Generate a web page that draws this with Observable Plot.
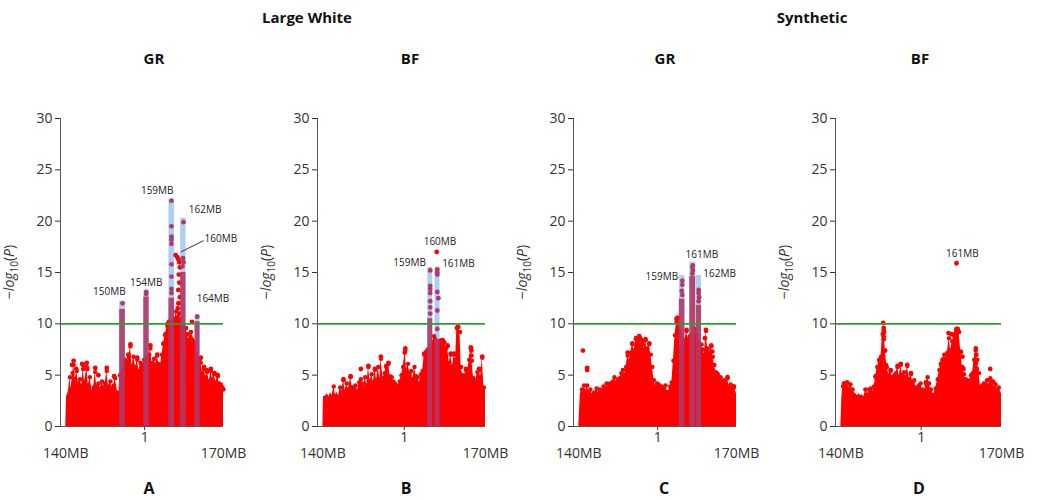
<!DOCTYPE html>
<html><head><meta charset="utf-8">
<script src="https://cdn.jsdelivr.net/npm/d3@7"></script>
<script src="https://cdn.jsdelivr.net/npm/@observablehq/plot@0.6"></script>
<style>
body{margin:0;background:#fff;font-family:"Open Sans",sans-serif}
#root{position:relative;width:1044px;height:499px;overflow:hidden;background:#fff}
.t{position:absolute;font-weight:bold;font-size:15px;line-height:18px;transform:translateX(-50%);white-space:nowrap;color:#111}
.p{position:absolute;top:100px}
</style></head><body><div id="root"></div>
<script>
// ---------- data ----------
const breedTitles = ["Large White", "Synthetic"];
const traitTitles = ["GR", "BF", "GR", "BF"];
const panelLetters = ["A", "B", "C", "D"];
const yTicks = [0, 5, 10, 15, 20, 25, 30];
const chromosomeTick = [{pos: 155, label: "1"}];
const xEndLabels = [{pos: 140, label: "140MB"}, {pos: 170, label: "170MB"}];
const threshold = 10;

// envelope of the dense red cloud: [position MB, -log10(P)]
const envA = [[140.0,0],[140.15,2.9],[140.5,3.4],[140.8,4.8],[141.0,3.6],[141.3,5.2],[141.5,6.0],[141.8,4.6],[142.1,5.4],[142.4,4.2],[142.7,4.6],[143.0,3.9],[143.3,5.6],[143.6,4.3],[144.0,5.8],[144.3,4.0],[144.6,4.8],[145.0,3.5],[145.3,3.8],[145.6,5.3],[145.9,3.9],[146.2,4.2],[146.6,3.7],[146.9,4.4],[147.2,3.8],[147.5,4.2],[147.8,5.4],[148.1,3.9],[148.5,4.4],[148.8,3.7],[149.1,4.0],[149.4,4.7],[149.8,3.5],[150.1,3.4],[150.3,5.0],[151.3,6.5],[151.6,6.2],[152.0,6.8],[152.3,7.8],[152.6,5.9],[152.9,6.8],[153.3,5.8],[153.6,6.5],[153.9,5.4],[154.2,6.2],[154.6,6.0],[154.9,6.5],[155.9,7.0],[156.1,7.6],[156.4,6.2],[156.8,6.6],[157.1,6.0],[157.4,6.9],[157.7,6.1],[158.0,5.8],[158.3,7.0],[158.6,8.0],[158.9,8.9],[159.3,9.8],[159.6,10.2],[160.7,10.4],[160.8,10.5],[161.0,11.2],[161.2,10.6],[161.4,12.0],[161.6,11.0],[161.85,10.5],[162.9,9.6],[163.1,9.0],[163.4,8.4],[163.7,8.8],[164.0,8.5],[164.3,8.3],[164.6,8.0],[165.5,6.5],[165.7,6.2],[166.0,5.2],[166.3,5.6],[166.6,4.8],[166.9,5.3],[167.3,4.4],[167.6,5.4],[167.9,4.6],[168.2,5.1],[168.5,4.3],[168.9,4.9],[169.2,4.2],[169.5,4.1],[169.8,3.8],[170.0,3.6]];
const envB = [[140.0,0],[140.1,2.9],[140.5,3.0],[140.8,3.2],[141.1,2.9],[141.4,3.3],[141.7,3.0],[142.0,3.9],[142.3,3.1],[142.6,3.3],[142.9,3.0],[143.2,3.8],[143.5,3.4],[143.8,4.5],[144.1,3.5],[144.4,4.2],[144.7,3.6],[145.1,4.8],[145.4,3.8],[145.7,3.7],[146.0,4.0],[146.4,3.5],[146.7,4.3],[147.0,4.6],[147.2,4.2],[147.5,3.8],[147.8,4.8],[148.1,4.0],[148.4,5.8],[148.7,4.4],[149.0,5.1],[149.3,4.3],[149.6,5.5],[149.9,4.5],[150.2,5.8],[150.5,4.6],[150.7,6.6],[151.1,4.7],[151.4,5.2],[151.7,5.8],[152.1,6.1],[152.4,4.9],[152.7,4.8],[153.0,4.4],[153.3,4.2],[153.6,3.8],[153.9,4.0],[154.2,4.4],[154.5,5.0],[154.8,5.8],[155.2,7.4],[155.4,5.5],[155.7,6.1],[156.0,5.2],[156.3,5.4],[156.6,4.6],[156.9,5.8],[157.2,4.9],[157.5,4.8],[157.8,4.2],[158.1,5.1],[158.4,5.4],[158.7,7.0],[159.1,7.2],[159.35,7.5],[160.3,8.2],[160.5,8.8],[160.7,8.5],[161.6,8.3],[161.8,8.4],[162.1,8.0],[162.4,8.2],[162.7,7.6],[163.0,7.8],[163.3,6.2],[163.6,7.0],[163.9,5.8],[164.2,7.0],[164.5,6.5],[164.7,9.6],[165.0,9.7],[165.3,9.2],[165.5,5.8],[165.8,5.0],[166.0,4.8],[166.4,5.5],[166.7,5.2],[167.0,6.5],[167.3,7.6],[167.5,6.4],[167.8,4.7],[168.2,4.4],[168.5,5.3],[168.8,5.5],[169.1,4.8],[169.4,6.7],[169.7,3.8],[170.0,3.5]];
const envC = [[140.0,0],[140.3,3.2],[140.6,3.6],[140.8,3.3],[141.0,4.0],[141.3,3.5],[141.6,4.0],[141.9,3.4],[142.2,3.6],[142.5,3.2],[142.8,3.5],[143.1,3.4],[143.4,3.7],[143.7,3.3],[144.0,3.6],[144.3,3.4],[144.7,3.9],[145.0,3.6],[145.3,4.2],[145.6,3.8],[145.9,4.2],[146.2,4.0],[146.5,4.4],[146.8,4.8],[147.1,4.3],[147.5,4.6],[147.8,4.7],[148.1,5.2],[148.4,5.5],[148.7,5.0],[149.0,5.8],[149.3,6.9],[149.6,6.4],[149.9,7.2],[150.2,8.0],[150.5,7.4],[150.9,8.5],[151.2,8.2],[151.5,8.7],[151.8,7.8],[152.1,8.2],[152.4,7.5],[152.7,8.4],[153.0,7.6],[153.4,8.0],[153.7,7.0],[154.0,5.8],[154.3,4.5],[154.6,3.9],[154.9,4.2],[155.2,4.1],[155.5,3.8],[155.8,3.9],[156.1,3.6],[156.5,4.0],[156.8,3.5],[157.1,3.5],[157.4,3.9],[157.7,4.3],[158.0,6.4],[158.3,8.9],[158.6,10.2],[158.9,10.5],[159.1,10.0],[160.2,8.4],[160.5,9.3],[160.8,8.5],[161.1,8.8],[162.2,9.5],[162.4,9.0],[163.35,8.0],[163.6,7.5],[163.9,7.0],[164.2,9.3],[164.5,7.6],[164.8,7.2],[165.2,7.8],[165.5,6.8],[165.8,6.0],[166.1,5.3],[166.4,5.0],[166.7,4.6],[167.0,4.8],[167.3,4.4],[167.6,4.5],[167.9,4.2],[168.3,4.7],[168.6,3.9],[168.9,4.1],[169.2,3.7],[169.5,3.8],[169.8,3.5],[170.0,3.2]];
const envD = [[140.0,0],[140.2,3.0],[140.4,3.9],[140.6,4.1],[140.9,3.8],[141.2,4.2],[141.5,3.7],[141.8,4.1],[142.2,3.6],[142.5,3.3],[142.8,3.2],[143.1,3.0],[143.4,3.2],[143.7,3.0],[144.0,3.1],[144.3,2.9],[144.6,3.5],[145.0,3.2],[145.3,3.6],[145.6,3.7],[146.0,3.4],[146.2,3.9],[146.5,4.8],[146.8,5.8],[147.2,6.4],[147.5,6.8],[147.8,9.0],[148.0,9.4],[148.1,9.2],[148.3,7.4],[148.6,5.8],[149.0,5.0],[149.3,5.4],[149.6,4.8],[150.0,5.0],[150.3,5.2],[150.6,5.8],[150.9,4.9],[151.2,6.0],[151.5,5.0],[151.8,5.3],[152.1,4.8],[152.4,5.9],[152.8,4.6],[153.1,5.1],[153.4,4.3],[153.7,4.5],[154.0,3.8],[154.3,3.6],[154.6,4.0],[154.9,4.2],[155.2,3.6],[155.6,3.4],[155.9,4.2],[156.2,4.8],[156.5,4.2],[156.8,3.6],[157.1,3.3],[157.4,3.2],[157.7,3.7],[158.1,4.6],[158.4,5.5],[158.7,6.0],[159.0,6.4],[159.3,7.0],[159.6,6.6],[159.9,7.2],[160.2,8.6],[160.5,7.4],[160.8,8.3],[161.2,8.8],[161.5,9.4],[161.8,9.5],[162.1,9.2],[162.4,7.2],[162.7,5.8],[163.0,5.1],[163.3,4.6],[163.6,4.5],[164.0,4.4],[164.3,5.0],[164.6,5.2],[164.9,6.5],[165.2,7.4],[165.5,6.5],[165.8,5.2],[166.1,3.8],[166.4,4.0],[166.7,4.2],[167.0,4.0],[167.3,4.5],[167.6,4.0],[167.9,4.7],[168.3,4.3],[168.6,3.8],[168.9,4.1],[169.2,3.6],[169.5,3.8],[169.8,3.4],[170.0,3.2]];

// individual SNPs above the cloud (red)
const dotsA = [[141.2,6.0],[141.5,6.4],[142.0,5.6],[143.1,6.1],[143.3,6.0],[144.0,6.2],[144.1,5.6],[145.6,5.7],[146.2,5.0],[147.8,5.7],[149.2,4.9],[151.9,7.0],[152.3,8.0],[153.6,6.7],[156.1,7.9],[157.4,7.0],[158.6,8.1],[159.0,9.0],[159.4,10.0],[160.9,16.7],[161.2,16.5],[161.4,16.3],[161.6,16.0],[161.7,15.5],[161.5,14.8],[161.6,14.0],[161.4,13.3],[161.7,12.6],[161.5,12.0],[161.3,11.5],[163.8,9.2],[164.0,10.2],[165.7,6.7],[166.3,5.8],[166.8,5.5],[167.6,5.6],[168.3,5.2],[168.9,5.0]];
const dotsB = [[143.8,4.6],[145.1,4.9],[147.0,5.6],[148.4,5.9],[149.6,5.6],[150.7,6.8],[151.7,5.9],[152.1,6.2],[155.1,7.2],[155.2,7.6],[158.7,7.1],[159.1,7.3],[161.0,17.0],[162.1,8.4],[163.0,7.9],[163.6,7.1],[164.2,7.1],[164.9,9.7],[166.4,5.6],[167.3,7.7],[167.4,7.4],[167.4,6.9],[168.8,5.6],[169.4,6.8]];
const dotsC = [[140.8,7.4],[141.6,5.7],[141.6,5.5],[149.3,7.2],[150.2,8.1],[150.9,8.6],[151.5,8.8],[151.8,8.5],[152.1,8.0],[152.7,8.5],[153.4,8.1],[158.6,10.5],[158.8,10.6],[160.5,9.4],[164.0,8.6],[164.2,9.4],[165.2,7.9],[165.4,7.3],[166.4,5.1],[168.3,4.8],[169.5,3.9]];
const dotsD = [[140.6,4.2],[141.2,4.3],[144.6,3.6],[146.5,4.9],[147.2,6.5],[147.9,10.1],[148.0,9.6],[148.0,9.2],[148.0,8.8],[148.0,8.5],[148.2,7.4],[148.4,6.0],[149.3,5.5],[150.6,5.9],[151.2,6.1],[152.4,6.0],[153.1,5.2],[155.9,4.3],[158.7,6.1],[159.0,6.5],[160.1,9.1],[160.6,9.0],[161.3,9.0],[161.6,9.5],[161.8,9.5],[161.6,15.9],[162.4,7.3],[162.7,6.8],[162.9,5.6],[165.2,7.6],[165.3,7.0],[165.2,6.2],[165.4,5.6],[167.9,5.6],[168.3,4.4],[168.5,4.3]];

// highlighted QTL windows: start, end, top of window, top of dense column
const barsA = [{start:150.25,end:151.34,top:12.2,col:11.4},{start:154.84,end:155.86,top:13.2,col:12.6},{start:159.62,end:160.70,top:22.1,col:12.5},{start:161.85,end:162.87,top:20.3,col:15.0},{start:164.59,end:165.54,top:10.9,col:10.2}];
const barsB = [{start:159.35,end:160.27,top:15.5,col:10.5},{start:160.69,end:161.61,top:15.5,col:8.5}];
const barsC = [{start:159.13,end:160.19,top:14.7,col:12.4},{start:161.12,end:162.24,top:16.0,col:14.6},{start:162.36,end:163.35,top:14.7,col:11.8}];
const barsD = [];

// SNPs inside the highlighted windows
const hitsA = [[150.8,12.0],[155.3,13.1],[155.3,12.9],[160.1,22.0],[160.1,19.5],[160.1,18.5],[160.1,18.2],[160.1,17.8],[160.1,15.8],[160.1,14.6],[160.1,13.4],[160.1,13.0],[162.4,19.9],[162.3,16.4],[162.4,16.0],[162.2,15.6],[165.0,10.7]];
const hitsB = [[159.8,15.2],[159.8,13.7],[159.8,13.4],[159.8,13.0],[159.8,12.2],[159.8,11.6],[159.8,11.0],[161.1,15.3],[161.1,15.0],[161.1,14.8],[161.1,13.1],[161.3,12.5],[161.1,11.3],[161.1,9.5]];
const hitsC = [[159.7,14.2],[159.7,13.8],[159.6,13.2],[159.7,12.8],[161.7,15.7],[161.6,15.5],[161.7,15.2],[161.6,14.9],[162.8,13.3],[162.8,13.0],[162.9,12.6],[162.8,12.2]];
const hitsD = [];

// annotations: text, anchor position (MB, -log10P), alignment
const notesA = [{text:"150MB",x:151.4,y:13.1,a:"end"},{text:"154MB",x:155.3,y:14.0,a:"middle"},{text:"159MB",x:160.5,y:23.0,a:"end"},{text:"162MB",x:163.4,y:21.1,a:"start"},{text:"160MB",x:166.4,y:18.3,a:"start"},{text:"164MB",x:164.9,y:12.4,a:"start"}];
const notesB = [{text:"160MB",x:161.6,y:18.0,a:"middle"},{text:"159MB",x:159.0,y:15.9,a:"end"},{text:"161MB",x:162.0,y:15.8,a:"start"}];
const notesC = [{text:"159MB",x:158.9,y:14.6,a:"end"},{text:"161MB",x:163.4,y:16.7,a:"middle"},{text:"162MB",x:163.7,y:14.9,a:"start"}];
const notesD = [{text:"161MB",x:162.7,y:16.8,a:"middle"}];
const leadersA = [{x1:161.9,y1:17.0,x2:166.2,y2:18.1}];

// ---------- layout ----------
const panels = [
  {env:envA, dots:dotsA, bars:barsA, hits:hitsA, notes:notesA, leaders:leadersA},
  {env:envB, dots:dotsB, bars:barsB, hits:hitsB, notes:notesB, leaders:[]},
  {env:envC, dots:dotsC, bars:barsC, hits:hitsC, notes:notesC, leaders:[]},
  {env:envD, dots:dotsD, bars:barsD, hits:hitsD, notes:notesD, leaders:[]}
];
const panelLeft = [0, 257, 513, 775];
const panelPlotW = [163, 168, 163, 166];
const traitCenters = [154, 410, 665, 920];
const letterCenters = [149, 406, 664, 919];
const breedCenters = [307, 812];

const root = document.getElementById("root");
function addText(txt, cx, cy, size) {
  const d = document.createElement("div");
  d.className = "t"; d.textContent = txt;
  d.style.left = cx + "px"; d.style.top = (cy - 9) + "px";
  if (size) d.style.fontSize = size + "px";
  root.appendChild(d);
}
breedTitles.forEach((t, i) => addText(t, breedCenters[i], 17));
traitTitles.forEach((t, i) => addText(t, traitCenters[i], 58));
panelLetters.forEach((t, i) => addText(t, letterCenters[i], 488, 16));

const RED = "#ff0000", PURPLE = "#b03a68", BLUE = "#b0cdf2", AXIS = "#555";
const ML = 60, MR = 30, MT = 18, MB = 44, H = 370;

panels.forEach((p, i) => {
  const W = ML + panelPlotW[i] + MR;
  const txt = (a) => Plot.text(p.notes.filter(n => n.a === a), {x:"x", y:"y", text:"text", textAnchor:a, fontSize:10, fill:"#222"});
  const svg = Plot.plot({
    width: W, height: H,
    marginLeft: ML, marginRight: MR, marginTop: MT, marginBottom: MB,
    style: {fontFamily: "'Open Sans', sans-serif", fontSize: "14px", color: "#333", background: "transparent", overflow: "visible"},
    x: {domain: [139, 170], ticks: chromosomeTick.map(d => d.pos), tickFormat: () => chromosomeTick[0].label, tickSize: 4, tickPadding: 2, label: null},
    y: {domain: [0, 30], ticks: yTicks, tickSize: 5, tickPadding: 3, label: null},
    marks: [
      Plot.rectY(p.bars, {x1:"start", x2:"end", y1:0, y2:"top", fill:BLUE}),
      Plot.areaY(p.env, {x: d => d[0], y: d => d[1], fill: RED}),
      Plot.dot(p.env.filter(d => d[1] > 3.5), {x: d => d[0], y: d => d[1], r: 2.2, fill: RED}),
      Plot.dot(p.dots, {x: d => d[0], y: d => d[1], r: 2.4, fill: RED}),
      Plot.rectY(p.bars, {x1:"start", x2:"end", y1:0, y2:"col", fill:PURPLE, fillOpacity: 0.9}),
      Plot.dot(p.hits, {x: d => d[0], y: d => d[1], r: 2.4, fill: PURPLE}),
      Plot.ruleY([threshold], {stroke: "#2e9e2e", strokeWidth: 1.6}),
      Plot.ruleX([139], {y1: 0, y2: 30, stroke: AXIS}),
      Plot.ruleY([0], {stroke: AXIS}),
      Plot.link(p.leaders, {x1:"x1", y1:"y1", x2:"x2", y2:"y2", stroke:"#333", strokeWidth: 1}),
      txt("start"), txt("middle"), txt("end"),
      Plot.text(xEndLabels, {x: "pos", y: 0, text: "label", dy: 27, fontSize: 14, fill: "#333"})
    ]
  });
  svg.classList.add("p");
  svg.style.left = panelLeft[i] + "px";
  svg.style.position = "absolute";
  svg.style.top = "100px";
  // y-axis title with subscript
  const cy = MT + (H - MT - MB) / 2;
  const t = d3.select(svg).append("text")
    .attr("transform", `translate(14,${cy}) rotate(-90)`)
    .attr("text-anchor", "middle")
    .attr("font-size", 14).attr("fill", "#333");
  t.append("tspan").text("\u2212");
  t.append("tspan").attr("font-style", "italic").text("log");
  t.append("tspan").attr("font-size", 10).attr("dy", 4).text("10");
  t.append("tspan").attr("dy", -4).text("(");
  t.append("tspan").attr("font-style", "italic").text("P");
  t.append("tspan").text(")");
  root.appendChild(svg);
});
</script></body></html>
